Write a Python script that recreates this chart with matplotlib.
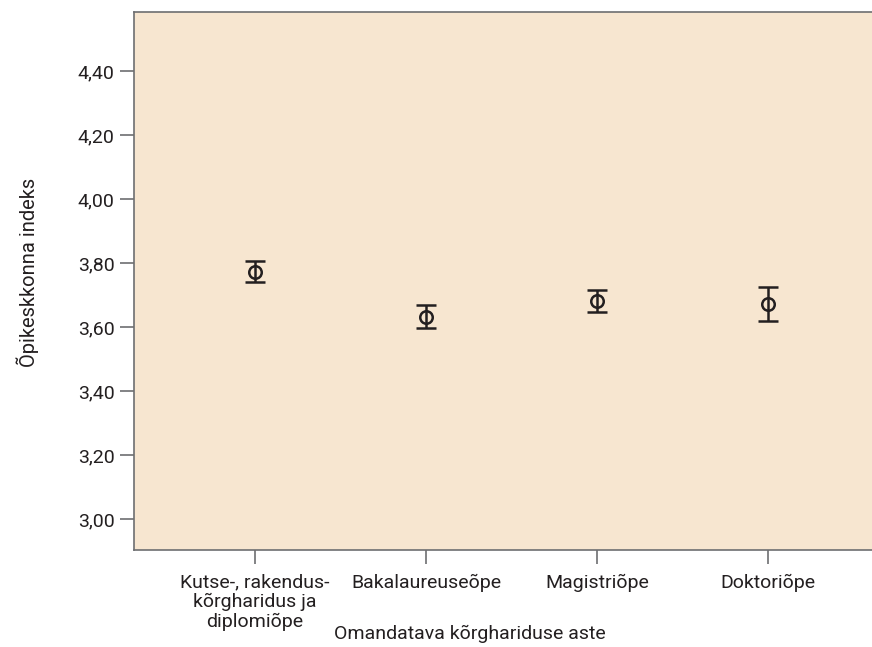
import matplotlib.pyplot as plt

plt.rcParams['font.family'] = ['Roboto', 'DejaVu Sans']

categories = ["Kutse-, rakendus-\nkõrgharidus ja\ndiplomiõpe", "Bakalaureuseõpe", "Magistriõpe", "Doktoriõpe"]
means = [3.772, 3.632, 3.682, 3.671]
upper = [3.807, 3.667, 3.716, 3.724]
lower = [3.740, 3.598, 3.648, 3.619]
yticks = [3.00, 3.20, 3.40, 3.60, 3.80, 4.00, 4.20, 4.40]


def plotting_means():
    fig = plt.figure(figsize=(8.72, 6.47), dpi=100)
    ax = fig.add_axes([134 / 872, 97 / 647, 740 / 872, 538 / 647])
    ax.set_facecolor('#F7E6D0')

    x = list(range(1, len(categories) + 1))
    err = [[m - l for m, l in zip(means, lower)], [u - m for m, u in zip(means, upper)]]
    ax.errorbar(x, means, yerr=err, fmt='o', color='#231f20', mfc='none', mec='#231f20',
                ms=9, mew=1.8, elinewidth=1.8, capsize=7.5, capthick=2.8)

    ax.set_xlim(0.292, 4.62)
    ax.set_ylim(2.903, 4.584)
    ax.set_yticks(yticks)
    ax.set_yticklabels([f"{v:.2f}".replace('.', ',') for v in yticks])
    ax.set_xticks(x)
    ax.set_xticklabels(categories, linespacing=1.1)

    for s in ax.spines.values():
        s.set_color('#6d6e71')
        s.set_linewidth(1.2)
    ax.tick_params(colors='#231f20', labelsize=14, length=10, width=1.2, color='#6d6e71')
    ax.tick_params(axis='y', pad=4)
    ax.tick_params(axis='x', pad=7)

    ax.set_ylabel("Õpikeskkonna indeks", fontsize=14.5, color='#231f20')
    ax.yaxis.set_label_coords(-0.129, 0.515)
    ax.set_xlabel("Omandatava kõrghariduse aste", fontsize=14, color='#231f20')
    ax.xaxis.set_label_coords((470 - 134) / 740, -0.139)

    fig.savefig('out.png', dpi=100)


if __name__ == '__main__':
    plotting_means()
